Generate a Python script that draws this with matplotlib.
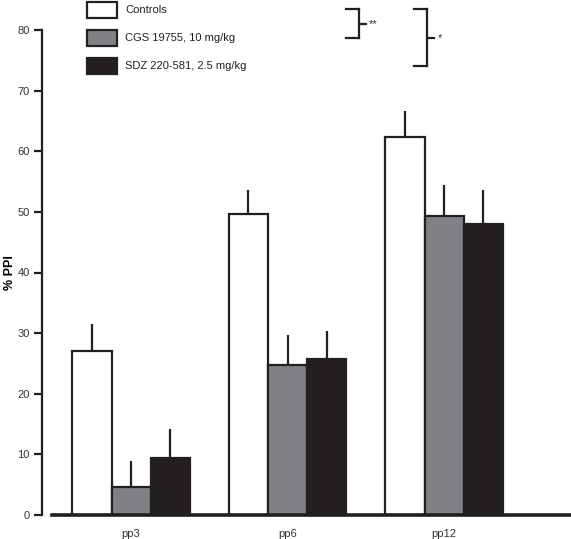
import matplotlib
matplotlib.use("Agg")
import matplotlib.pyplot as plt
from matplotlib.patches import Rectangle
from matplotlib.lines import Line2D
import numpy as np

categories = ["pp3", "pp6", "pp12"]
series_names = ["Controls", "CGS 19755, 10 mg/kg", "SDZ 220-581, 2.5 mg/kg"]
controls = [27.0, 49.7, 62.4]
controls_err = [4.5, 3.9, 4.3]
cgs = [4.6, 24.7, 49.3]
cgs_err = [4.3, 5.0, 5.1]
sdz = [9.4, 25.7, 48.0]
sdz_err = [4.8, 4.7, 5.6]
yticks = [0, 10, 20, 30, 40, 50, 60, 70, 80]

colors = ["#ffffff", "#808184", "#231f20"]
edge = "#231f20"

W, H = 571, 539
fig = plt.figure(figsize=(W / 100, H / 100), dpi=100)
plt.rcParams['font.family'] = ['Liberation Sans', 'DejaVu Sans']

def fx(px):
    return px / W

def fy(py):
    return 1 - py / H

ax = fig.add_axes([fx(42), fy(515), fx(571) - fx(42), fy(30) - fy(515)])
ax.set_ylim(0, 80)
ax.set_xlim(-0.569, 2.81)

x = np.arange(len(categories))
w = 0.25
for i, (vals, errs) in enumerate([(controls, controls_err), (cgs, cgs_err), (sdz, sdz_err)]):
    pos = x + (i - 1) * w
    ax.bar(pos, vals, width=w, color=colors[i], edgecolor=edge, linewidth=1.6, zorder=2)
    ax.vlines(pos, vals, np.array(vals) + np.array(errs), color=edge, linewidth=1.6, zorder=1)

for s in ["top", "right"]:
    ax.spines[s].set_visible(False)
ax.spines["left"].set_linewidth(1.6)
ax.spines["left"].set_color(edge)
ax.spines["left"].set_bounds(0, 80)
ax.spines["bottom"].set_linewidth(2.6)
ax.spines["bottom"].set_color(edge)
ax.spines["bottom"].set_bounds((52 - 131) / 156.5, 2.81)

ax.set_yticks(yticks)
ax.set_yticklabels([str(v) for v in yticks], fontsize=8, color="#333333")
ax.tick_params(axis="y", length=6, width=1.6, color=edge, pad=3)
ax.set_xticks(x)
ax.set_xticklabels(categories, fontsize=8, color="#333333")
ax.tick_params(axis="x", length=0, pad=10)
ax.set_ylabel("% PPI", fontsize=9, fontweight="bold")
ax.yaxis.set_label_coords((16 - 42) / 529, 0.5)

# legend
box_y = [2, 30, 58]
for i, name in enumerate(series_names):
    r = Rectangle((fx(87), fy(box_y[i] + 16)), fx(117) - fx(87), fy(box_y[i]) - fy(box_y[i] + 16),
                  transform=fig.transFigure, facecolor=colors[i], edgecolor=edge, linewidth=1.6)
    fig.add_artist(r)
    fig.text(fx(125), fy(box_y[i] + 8), name, fontsize=8, va="center", ha="left", color="#231f20")

# significance brackets
def bracket(x0, x1, y0, y1, xt, label, lx):
    lines = [([x0, x1], [y0, y0]), ([x1, x1], [y0, y1]), ([x0, x1], [y1, y1]),
             ([x1, xt], [(y0 + y1) / 2, (y0 + y1) / 2])]
    for xs, ys in lines:
        fig.add_artist(Line2D([fx(v) for v in xs], [fy(v) for v in ys], transform=fig.transFigure,
                              color=edge, linewidth=1.6))
    fig.text(fx(lx), fy((y0 + y1) / 2 + 1), label, fontsize=8, va="center", ha="left", color="#333333")

bracket(346, 359, 9, 38, 366, "**", 369)
bracket(414, 427, 9, 66, 434, "*", 438)

fig.savefig("out.png", dpi=100)
